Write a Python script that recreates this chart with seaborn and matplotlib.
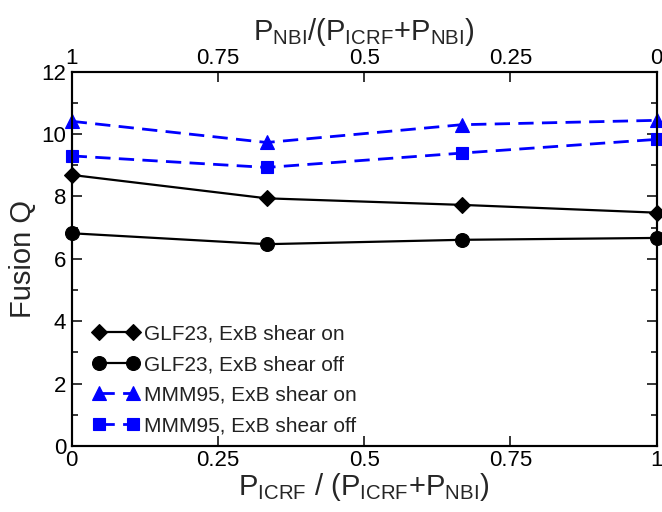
import matplotlib
matplotlib.use("Agg")
import matplotlib.pyplot as plt
from matplotlib.ticker import MultipleLocator, FixedLocator
import seaborn as sns
import pandas as pd

# ICRF heating fraction and fusion gain for each transport model
icrf_fraction = [0.0, 1/3, 2/3, 1.0]
glf23_shear_on = [8.69, 7.94, 7.73, 7.48]
glf23_shear_off = [6.82, 6.47, 6.61, 6.67]
mmm95_shear_on = [10.41, 9.73, 10.30, 10.44]
mmm95_shear_off = [9.30, 8.93, 9.39, 9.83]
series_labels = ["GLF23, ExB shear on", "GLF23, ExB shear off",
                 "MMM95, ExB shear on", "MMM95, ExB shear off"]
bottom_ticks = [0, 0.25, 0.5, 0.75, 1]
bottom_ticklabels = ["0", "0.25", "0.5", "0.75", "1"]
top_ticklabels = ["1", "0.75", "0.5", "0.25", "0"]

sns.set_theme(style="ticks")
plt.rcParams["font.family"] = ["Liberation Sans", "DejaVu Sans"]
plt.rcParams["mathtext.fontset"] = "custom"
plt.rcParams["mathtext.rm"] = "Liberation Sans"
plt.rcParams["mathtext.it"] = "Liberation Sans"

frames = []
for lab, vals in zip(series_labels,
                     [glf23_shear_on, glf23_shear_off, mmm95_shear_on, mmm95_shear_off]):
    frames.append(pd.DataFrame({"x": icrf_fraction, "Q": vals, "series": lab}))
df = pd.concat(frames, ignore_index=True)

dash = (0, (5.5, 3.0))
styles = {
    "GLF23, ExB shear on": dict(color="black", marker="D", ms=8, ls="-", lw=1.6),
    "GLF23, ExB shear off": dict(color="black", marker="o", ms=10, ls="-", lw=1.6),
    "MMM95, ExB shear on": dict(color="#0000ff", marker="^", ms=10, ls=dash, lw=2.0),
    "MMM95, ExB shear off": dict(color="#0000ff", marker="s", ms=8.5, ls=dash, lw=2.0),
}

fig = plt.figure(figsize=(6.62, 5.12), dpi=100)
ax = fig.add_axes([0.1083, 0.1289, 0.8837, 0.7311])

for lab in series_labels:
    st = styles[lab]
    sub = df[df["series"] == lab]
    sns.lineplot(data=sub, x="x", y="Q", ax=ax, label=lab, color=st["color"],
                 marker=st["marker"], markersize=st["ms"], linestyle=st["ls"],
                 linewidth=st["lw"], markeredgecolor=st["color"], markeredgewidth=0.8,
                 clip_on=False, zorder=3)

ax.set_xlim(0, 1)
ax.set_ylim(0, 12)
ax.xaxis.set_major_locator(FixedLocator(bottom_ticks))
ax.set_xticklabels(bottom_ticklabels)
ax.yaxis.set_major_locator(MultipleLocator(2))
ax.yaxis.set_minor_locator(MultipleLocator(1))
ax.tick_params(axis="both", which="both", direction="in", right=True, top=False,
               labelsize=16, colors="black")
ax.tick_params(which="major", length=7, width=1.1)
ax.tick_params(which="minor", length=4, width=1.1)
ax.tick_params(axis="y", pad=4)
ax.tick_params(axis="x", pad=3)
for s in ax.spines.values():
    s.set_linewidth(1.5)
    s.set_color("black")

ax.set_xlabel(r"$\mathregular{P_{ICRF}\ /\ (P_{ICRF}{+}P_{NBI})}$", fontsize=21, labelpad=0)
ax.set_ylabel("Fusion Q", fontsize=21, labelpad=3)

top = ax.twiny()
top.set_xlim(0, 1)
top.xaxis.set_major_locator(FixedLocator(bottom_ticks))
top.set_xticklabels(top_ticklabels)
top.tick_params(axis="x", which="major", direction="in", length=7, width=1.1,
                labelsize=16, colors="black", pad=2)
top.set_xlabel(r"$\mathregular{P_{NBI}/(P_{ICRF}{+}P_{NBI})}$", fontsize=21, labelpad=6)
for s in top.spines.values():
    s.set_linewidth(1.5)
    s.set_color("black")

leg = ax.legend(loc="lower left", frameon=False, fontsize=15, numpoints=2,
                handlelength=2.25, handletextpad=0.2, labelspacing=0.55,
                borderaxespad=0.0, borderpad=0.0, bbox_to_anchor=(0.036, 0.029))
for t in leg.get_texts():
    t.set_color("#222222")

fig.savefig("out.png", dpi=100)
